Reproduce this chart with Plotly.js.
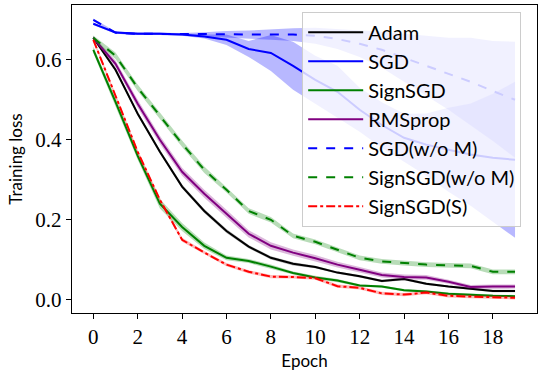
<!DOCTYPE html>
<html>
<head>
<meta charset="utf-8">
<script src="https://cdn.plot.ly/plotly-3.0.1.min.js"></script>
<style>
  html, body { margin: 0; padding: 0; background: #fff; }
  #plot { width: 541px; height: 376px; }
</style>
</head>
<body>
<div id="plot"></div>
<script>
var epochs = [0, 1, 2, 3, 4, 5, 6, 7, 8, 9, 10, 11, 12, 13, 14, 15, 16, 17, 18, 19];

// mean training loss per epoch
var adam = [0.655, 0.575, 0.465, 0.37, 0.283, 0.222, 0.172, 0.133, 0.105, 0.09, 0.082, 0.068, 0.059, 0.047, 0.052, 0.04, 0.033, 0.028, 0.022, 0.022];
var sgd = [0.69, 0.668, 0.665, 0.665, 0.663, 0.658, 0.65, 0.627, 0.617, 0.585, 0.55, 0.52, 0.475, 0.437, 0.405, 0.388, 0.375, 0.363, 0.355, 0.35];
var signsgd = [0.625, 0.495, 0.36, 0.24, 0.182, 0.135, 0.105, 0.097, 0.083, 0.067, 0.056, 0.048, 0.036, 0.033, 0.024, 0.021, 0.015, 0.012, 0.01, 0.009];
var rmsprop = [0.655, 0.59, 0.49, 0.40, 0.32, 0.265, 0.215, 0.165, 0.135, 0.118, 0.104, 0.088, 0.075, 0.062, 0.057, 0.056, 0.045, 0.032, 0.033, 0.033];
var sgdNoM = [0.70, 0.668, 0.665, 0.665, 0.664, 0.664, 0.664, 0.663, 0.663, 0.663, 0.66, 0.652, 0.64, 0.625, 0.605, 0.585, 0.565, 0.545, 0.522, 0.5];
var signsgdNoM = [0.655, 0.61, 0.53, 0.46, 0.39, 0.325, 0.275, 0.222, 0.2, 0.16, 0.145, 0.125, 0.105, 0.096, 0.092, 0.088, 0.086, 0.085, 0.07, 0.07];
var signsgdS = [0.65, 0.51, 0.37, 0.25, 0.15, 0.118, 0.088, 0.07, 0.058, 0.057, 0.054, 0.034, 0.03, 0.016, 0.013, 0.018, 0.01, 0.008, 0.006, 0.005];

// spread (std) per epoch, drawn as shaded bands
var adamStd = [0.004, 0.005, 0.005, 0.005, 0.005, 0.005, 0.005, 0.004, 0.004, 0.004, 0.003, 0.003, 0.003, 0.003, 0.003, 0.003, 0.003, 0.003, 0.003, 0.003];
var sgdStd = [0.003, 0.003, 0.003, 0.003, 0.003, 0.005, 0.013, 0.02, 0.045, 0.06, 0.06, 0.065, 0.055, 0.057, 0.06, 0.078, 0.105, 0.128, 0.16, 0.195];
var signsgdStd = [0.008, 0.01, 0.01, 0.012, 0.01, 0.008, 0.006, 0.005, 0.005, 0.004, 0.004, 0.004, 0.003, 0.003, 0.003, 0.003, 0.003, 0.003, 0.003, 0.003];
var rmspropStd = [0.005, 0.008, 0.01, 0.01, 0.01, 0.01, 0.01, 0.009, 0.009, 0.008, 0.008, 0.007, 0.007, 0.006, 0.006, 0.006, 0.005, 0.005, 0.005, 0.005];
var sgdNoMStd = [0.003, 0.003, 0.003, 0.003, 0.003, 0.005, 0.008, 0.01, 0.013, 0.016, 0.02, 0.025, 0.033, 0.045, 0.06, 0.075, 0.09, 0.11, 0.125, 0.145];
var signsgdNoMStd = [0.006, 0.008, 0.008, 0.008, 0.008, 0.008, 0.007, 0.007, 0.007, 0.006, 0.006, 0.006, 0.006, 0.006, 0.006, 0.006, 0.006, 0.006, 0.006, 0.006];
var signsgdSStd = [0.005, 0.005, 0.005, 0.005, 0.005, 0.004, 0.004, 0.004, 0.004, 0.004, 0.004, 0.004, 0.004, 0.004, 0.004, 0.004, 0.004, 0.004, 0.004, 0.004];

var names = ["Adam", "SGD", "SignSGD", "RMSprop", "SGD(w/o M)", "SignSGD(w/o M)", "SignSGD(S)"];
var means = [adam, sgd, signsgd, rmsprop, sgdNoM, signsgdNoM, signsgdS];
var stds = [adamStd, sgdStd, signsgdStd, rmspropStd, sgdNoMStd, signsgdNoMStd, signsgdSStd];
var colors = ["0,0,0", "0,0,255", "0,128,0", "128,0,128", "0,0,255", "0,128,0", "255,0,0"];
var dashes = ["solid", "solid", "solid", "solid", "dash", "dash", "dashdot"];

var data = [];
for (var i = 0; i < names.length; i++) {
  var upper = means[i].map(function(m, k) { return m + stds[i][k]; });
  var lower = means[i].map(function(m, k) { return m - stds[i][k]; });
  data.push({
    x: epochs.concat(epochs.slice().reverse()),
    y: upper.concat(lower.slice().reverse()),
    type: "scatter",
    mode: "lines",
    fill: "toself",
    fillcolor: "rgba(" + colors[i] + ",0.28)",
    line: {width: 0},
    hoverinfo: "skip",
    showlegend: false,
    legendgroup: "g" + i
  });
  data.push({
    x: epochs,
    y: means[i],
    type: "scatter",
    mode: "lines",
    name: names[i],
    legendgroup: "g" + i,
    line: {color: "rgb(" + colors[i] + ")", width: 2, dash: dashes[i]}
  });
}

var layout = {
  width: 541,
  height: 376,
  margin: {l: 72, r: 4, t: 5, b: 63},
  paper_bgcolor: "#fff",
  plot_bgcolor: "#fff",
  showlegend: true,
  legend: {
    x: 0.495, y: 0.978, xanchor: "left", yanchor: "top",
    bgcolor: "rgba(255,255,255,0.8)",
    bordercolor: "#cccccc", borderwidth: 1,
    font: {family: "Lato, 'DejaVu Sans', sans-serif", size: 20, color: "#000"},
    itemwidth: 55,
    tracegroupgap: 0
  },
  xaxis: {
    range: [-0.96, 19.99],
    tickvals: [0, 2, 4, 6, 8, 10, 12, 14, 16, 18],
    ticks: "outside", ticklen: 5, tickcolor: "#000", tickwidth: 1,
    showline: true, mirror: true, linecolor: "#000", linewidth: 1.2,
    showgrid: false, zeroline: false,
    tickfont: {family: "'Liberation Serif', serif", size: 21, color: "#000"},
    title: {text: "Epoch", standoff: 6, font: {family: "Lato, 'DejaVu Sans', sans-serif", size: 17, color: "#000"}}
  },
  yaxis: {
    range: [-0.033, 0.737],
    tickvals: [0, 0.2, 0.4, 0.6],
    ticktext: ["0.0", "0.2", "0.4", "0.6"],
    ticks: "outside", ticklen: 5, tickcolor: "#000", tickwidth: 1,
    showline: true, mirror: true, linecolor: "#000", linewidth: 1.2,
    showgrid: false, zeroline: false,
    tickfont: {family: "'Liberation Serif', serif", size: 21, color: "#000"},
    title: {text: "Training loss", standoff: 8, font: {family: "Lato, 'DejaVu Sans', sans-serif", size: 17, color: "#000"}}
  }
};

Plotly.newPlot("plot", data, layout, {displayModeBar: false, staticPlot: true});
</script>
</body>
</html>
